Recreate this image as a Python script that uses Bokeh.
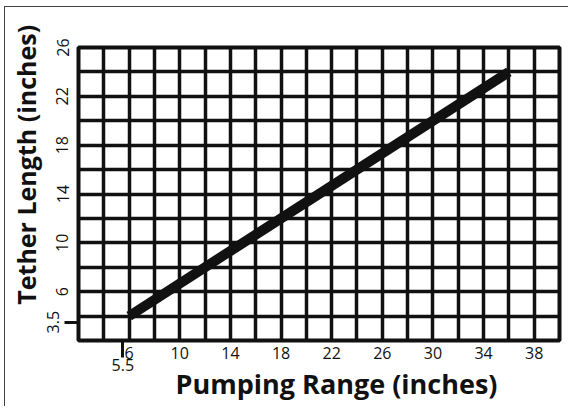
from bokeh.plotting import figure
from bokeh.models import FixedTicker, LinearAxis, Range1d
from bokeh.embed import file_html
from bokeh.resources import INLINE

# Data
pumping_range = [6, 36]
tether_length = [4, 24]

x_labels = [6, 10, 14, 18, 22, 26, 30, 34, 38]
y_labels = [6, 10, 14, 18, 22, 26]
x_extra = [5.5]
y_extra = [3.5]
x_grid = list(range(2, 41, 2))
y_grid = list(range(2, 27, 2))
x_title = "Pumping Range (inches)"
y_title = "Tether Length (inches)"

FONT = "Open Sans"
INK = "#111111"
NBSP = "\u00a0"

W, H = 564, 400
p = figure(width=W, height=H,
           x_range=Range1d(2, 40), y_range=Range1d(2, 26),
           output_backend="svg", toolbar_location=None,
           min_border_left=72, min_border_top=40,
           min_border_right=10, min_border_bottom=67,
           x_axis_location=None, y_axis_location=None)
p.background_fill_color = "white"
p.border_fill_color = "white"
p.outline_line_color = INK
p.outline_line_width = 4

# Grid
p.xgrid.ticker = FixedTicker(ticks=x_grid)
p.ygrid.ticker = FixedTicker(ticks=y_grid)
for g in (p.xgrid, p.ygrid):
    g.grid_line_color = INK
    g.grid_line_width = 3.5
    g.grid_line_alpha = 1.0

def style_axis(ax, size):
    ax.axis_line_color = None
    ax.major_tick_line_color = None
    ax.major_tick_out = 0
    ax.major_tick_in = 0
    ax.minor_tick_in = 0
    ax.major_label_text_font = FONT
    ax.major_label_text_font_size = size
    ax.major_label_text_color = INK
    ax.axis_label_text_font = FONT
    ax.axis_label_text_font_style = "bold"
    ax.axis_label_text_color = INK

# X axes
xa = LinearAxis(ticker=FixedTicker(ticks=x_labels, minor_ticks=x_extra))
style_axis(xa, "16px")
xa.minor_tick_line_color = INK
xa.minor_tick_line_width = 3
xa.minor_tick_out = 17
xa.major_label_standoff = -11
p.add_layout(xa, "below")

xb = LinearAxis(ticker=FixedTicker(ticks=x_extra, minor_ticks=[]))
style_axis(xb, "16px")
xb.minor_tick_line_color = None
xb.major_label_standoff = -3
xb.axis_label = NBSP * 5 + x_title
xb.axis_label_text_font_size = "27px"
xb.axis_label_standoff = -9
p.add_layout(xb, "below")

# Y axes
ya = LinearAxis(ticker=FixedTicker(ticks=y_labels, minor_ticks=y_extra))
style_axis(ya, "16px")
ya.minor_tick_line_color = INK
ya.minor_tick_line_width = 3
ya.minor_tick_out = 14
ya.major_label_orientation = "vertical"
ya.major_label_standoff = -4
p.add_layout(ya, "left")

yb = LinearAxis(ticker=FixedTicker(ticks=y_extra, minor_ticks=[]))
style_axis(yb, "16px")
yb.minor_tick_line_color = None
yb.major_label_orientation = "vertical"
yb.major_label_standoff = -5
yb.axis_label = NBSP * 9 + y_title
yb.axis_label_text_font_size = "25px"
yb.axis_label_standoff = 1
p.add_layout(yb, "left")

# Data line
p.line(pumping_range, tether_length, line_color=INK, line_width=10,
       line_cap="butt")

p.styles = {"margin-left": "4px", "margin-top": "6px",
            "border-left": "1.5px solid #444444",
            "border-top": "1.5px solid #444444"}

open("out.html", "w").write(file_html(p, INLINE))
